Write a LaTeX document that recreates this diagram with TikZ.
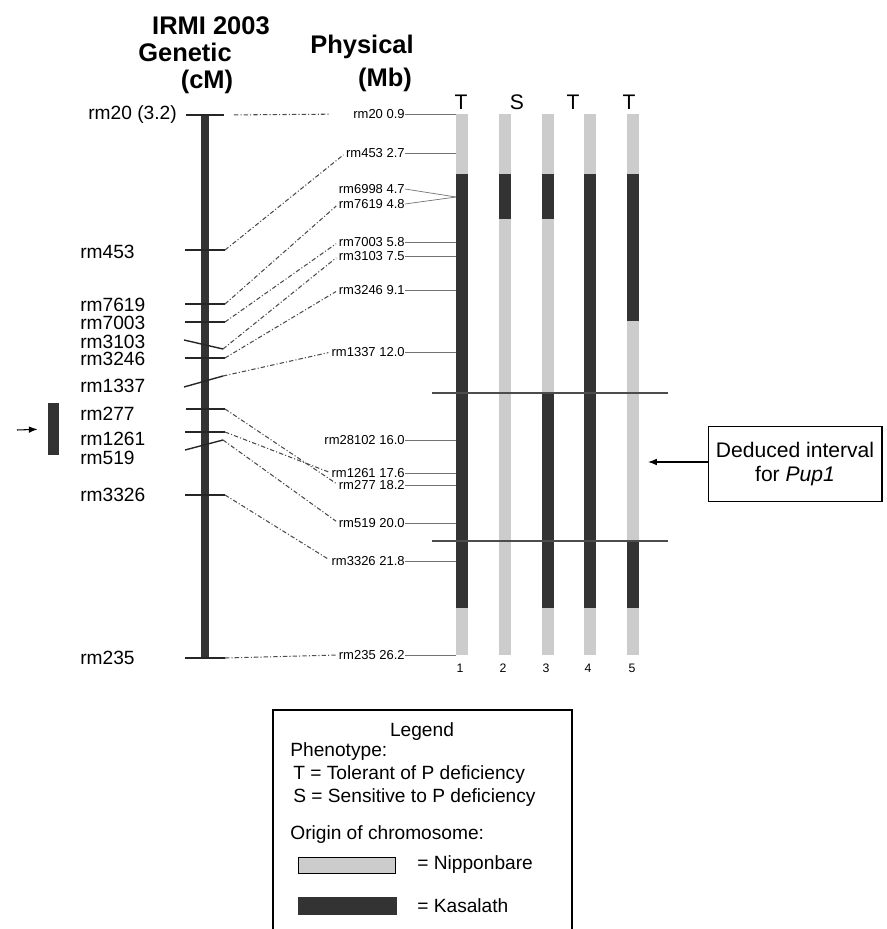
\documentclass[tikz,border=0pt]{standalone}
\usepackage{fontspec}
\setmainfont{Liberation Sans}
\usepackage{xcolor}
\usetikzlibrary{arrows.meta, positioning}
\definecolor{nipcol}{gray}{0.80}
\definecolor{kascol}{gray}{0.20}

\begin{document}
\begin{tikzpicture}[
    x=0.02cm, y=-0.02cm,
    title/.style={font=\fontsize{14.5}{15}\selectfont\bfseries, inner sep=0pt},
    gmark/.style={anchor=west, font=\fontsize{10.9}{11}\selectfont, inner sep=0pt},
    pmark/.style={anchor=east, font=\fontsize{7.4}{8}\selectfont, inner sep=0pt},
    gtick/.style={line width=0.8pt, black!85},
    link/.style={dash pattern=on 2.5pt off 1.2pt on 0.6pt off 1.2pt, line width=0.6pt, black!70, shorten >=0.06cm},
    guide/.style={line width=0.4pt, black!55},
    barbox/.style={rectangle, fill=nipcol, minimum width=0.24cm, minimum height=10.82cm, inner sep=0pt},
    kas/.style={fill=kascol},
    arrow/.style={-{Latex[length=5pt]}, line width=0.6pt}
]
\useasboundingbox (0,0) rectangle (886,929);

% titles
\node[title] (irmi) at (211,26) {IRMI 2003};
\node[title] (gen) at (185,52) {Genetic};
\node[title] (cm) at (207,82) {(cM)};
\node[title] (phys) at (362,47) {Physical};
\node[title] (mb) at (385,80) {(Mb)};

% genetic map
\fill[kas] (201,115) rectangle (209,658);
\draw[gtick] (186,115) -- (224,115) coordinate (t20);
\draw[gtick] (185,250) -- (225,250) coordinate (t453);
\draw[gtick] (185,304) -- (225,304) coordinate (t7619);
\draw[gtick] (185,322) -- (225,322) coordinate (t7003);
\draw[gtick] (184,340) -- (223,349) coordinate (t3103);
\draw[gtick] (185,358) -- (225,358) coordinate (t3246);
\draw[gtick] (184,387) -- (223,376) coordinate (t1337);
\draw[gtick] (186,409) -- (225,409) coordinate (t277);
\draw[gtick] (185,432) -- (225,432) coordinate (t1261);
\draw[gtick] (185,450) -- (223,440) coordinate (t519);
\draw[gtick] (185,495) -- (225,495) coordinate (t3326);
\draw[gtick] (185,658) -- (225,658) coordinate (t235);

\node[gmark] (g20) at (88,115) {rm20 (3.2)};
\node[gmark] (g453) at (80,252) {rm453};
\node[gmark] (g7619) at (80,305) {rm7619};
\node[gmark] (g7003) at (80,323) {rm7003};
\node[gmark] (g3103) at (80,342) {rm3103};
\node[gmark] (g3246) at (80,359) {rm3246};
\node[gmark] (g1337) at (80,386) {rm1337};
\node[gmark] (g277) at (80,414) {rm277};
\node[gmark] (g1261) at (80,439) {rm1261};
\node[gmark] (g519) at (80,458) {rm519};
\node[gmark] (g3326) at (80,495) {rm3326};
\node[gmark] (g235) at (80,658) {rm235};

% Pup1 interval on the left
\node[rectangle, fill=kascol, minimum width=0.22cm, minimum height=1.04cm, inner sep=0pt] (pupbar) at (53.5,429) {};
\coordinate (pupstart) at (17,430);
\draw[arrow, shorten >=0.2cm] (pupstart) -- (pupbar.west);

% physical map
\node[pmark] (p20) at (405,114) {rm20 0.9};
\node[pmark] (p453) at (405,153) {rm453 2.7};
\node[pmark] (p6998) at (405,189) {rm6998 4.7};
\node[pmark] (p7619) at (405,204) {rm7619 4.8};
\node[pmark] (p7003) at (405,242) {rm7003 5.8};
\node[pmark] (p3103) at (405,256) {rm3103 7.5};
\node[pmark] (p3246) at (405,290) {rm3246 9.1};
\node[pmark] (p1337) at (405,352) {rm1337 12.0};
\node[pmark] (p28102) at (405,440) {rm28102 16.0};
\node[pmark] (p1261) at (405,473) {rm1261 17.6};
\node[pmark] (p277) at (405,485) {rm277 18.2};
\node[pmark] (p519) at (405,523) {rm519 20.0};
\node[pmark] (p3326) at (405,561) {rm3326 21.8};
\node[pmark] (p235) at (405,655) {rm235 26.2};

% genetic to physical
\draw[link, shorten <=0.2cm, shorten >=0.46cm] (t20) -- (p20.west);
\draw[link] (t453) -- (p453.west);
\draw[link] (t7619) -- (p7619.west);
\draw[link] (t7003) -- (p7003.west);
\draw[link] (t3103) -- (p3103.west);
\draw[link] (t3246) -- (p3246.west);
\draw[link] (t1337) -- (p1337.west);
\draw[link] (t277) -- (p277.west);
\draw[link] (t1261) -- (p1261.west);
\draw[link] (t519) -- (p519.west);
\draw[link] (t3326) -- (p3326.west);
\draw[link] (t235) -- (p235.west);

% lines chromosomes
\node[barbox] (bar1) at (462,384.5) {};
\node[barbox] (bar2) at (504.5,384.5) {};
\node[barbox] (bar3) at (547.5,384.5) {};
\node[barbox] (bar4) at (590,384.5) {};
\node[barbox] (bar5) at (633,384.5) {};
\fill[kas] (456,174) rectangle (468,608);
\fill[kas] (498.5,174) rectangle (510.5,219);
\fill[kas] (541.5,174) rectangle (553.5,219);
\fill[kas] (541.5,393) rectangle (553.5,608);
\fill[kas] (584,174) rectangle (596,608);
\fill[kas] (627,174) rectangle (639,321);
\fill[kas] (627,541) rectangle (639,608);

\coordinate (join) at (456,197);
\draw[guide] (p20.east) -- (p20.east -| bar1.west);
\draw[guide] (p453.east) -- (p453.east -| bar1.west);
\draw[guide] (p6998.east) -- (join);
\draw[guide] (p7619.east) -- (join);
\draw[guide] (p7003.east) -- (p7003.east -| bar1.west);
\draw[guide] (p3103.east) -- (p3103.east -| bar1.west);
\draw[guide] (p3246.east) -- (p3246.east -| bar1.west);
\draw[guide] (p1337.east) -- (p1337.east -| bar1.west);
\draw[guide] (p28102.east) -- (p28102.east -| bar1.west);
\draw[guide] (p1261.east) -- (p1261.east -| bar1.west);
\draw[guide] (p277.east) -- (p277.east -| bar1.west);
\draw[guide] (p519.east) -- (p519.east -| bar1.west);
\draw[guide] (p3326.east) -- (p3326.east -| bar1.west);
\draw[guide] (p235.east) -- (p235.east -| bar1.west);

\node[font=\fontsize{12}{12}\selectfont] (ph1) at (461,102) {T};
\node[font=\fontsize{12}{12}\selectfont] (ph2) at (517,102) {S};
\node[font=\fontsize{12}{12}\selectfont] (ph3) at (573,102) {T};
\node[font=\fontsize{12}{12}\selectfont] (ph4) at (629,102) {T};
\node[font=\fontsize{7}{7}\selectfont] (n1) at (460,668) {1};
\node[font=\fontsize{7}{7}\selectfont] (n2) at (503,668) {2};
\node[font=\fontsize{7}{7}\selectfont] (n3) at (546,668) {3};
\node[font=\fontsize{7}{7}\selectfont] (n4) at (588,668) {4};
\node[font=\fontsize{7}{7}\selectfont] (n5) at (632,668) {5};

\draw[line width=0.7pt, black!70] (432,393) -- (668,393);
\draw[line width=0.7pt, black!70] (432,541) -- (668,541);

% deduced interval
\node[rectangle, draw, line width=0.6pt, align=center, minimum width=3.48cm, minimum height=1.5cm,
      font=\fontsize{12}{14}\selectfont] (interval) at (795,464) {Deduced interval\\for \textit{Pup1}};
\coordinate (intend) at (648,462);
\draw[arrow] (interval.west |- intend) -- (intend);

% legend
\draw[line width=0.6pt] (273,929) -- (273,710) -- (572,710) -- (572,929);
\node[font=\fontsize{10.9}{11}\selectfont] (leg) at (422,732) {Legend};
\node[gmark] (pheno) at (290,752) {Phenotype:};
\node[gmark] (tol) at (293,775) {T = Tolerant of P deficiency};
\node[gmark] (sens) at (293,798) {S = Sensitive to P deficiency};
\node[gmark] (orig) at (290,835) {Origin of chromosome:};
\draw[fill=nipcol, line width=0.5pt] (298,857) rectangle (395,873);
\fill[kas] (298,897) rectangle (397,915);
\node[gmark] (nip) at (417,865) {= Nipponbare};
\node[gmark] (kasl) at (417,906) {= Kasalath};
\end{tikzpicture}
\end{document}
